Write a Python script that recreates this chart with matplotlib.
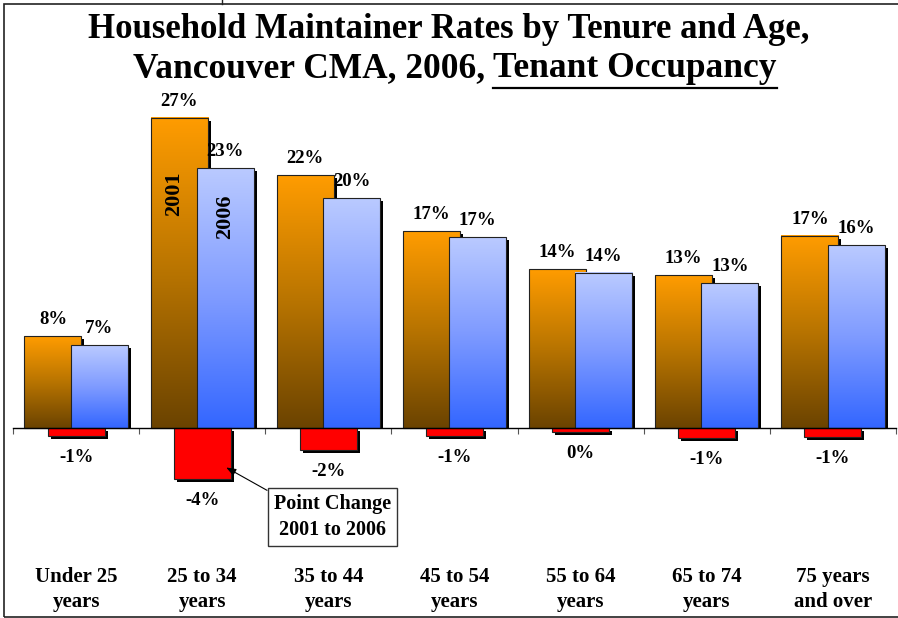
import numpy as np
import matplotlib
matplotlib.use("Agg")
import matplotlib.pyplot as plt
from matplotlib.colors import LinearSegmentedColormap
from matplotlib.patches import Rectangle
from matplotlib.lines import Line2D
from matplotlib.transforms import ScaledTranslation, blended_transform_factory

plt.rcParams['font.family'] = ['Liberation Serif', 'DejaVu Serif']
plt.rcParams['font.weight'] = 'bold'

# data (percent)
age_groups = ["Under 25\nyears", "25 to 34\nyears", "35 to 44\nyears", "45 to 54\nyears",
              "55 to 64\nyears", "65 to 74\nyears", "75 years\nand over"]
rate_2001 = [8.0, 27.0, 22.0, 17.1, 13.8, 13.3, 16.7]
rate_2006 = [7.2, 22.6, 20.0, 16.6, 13.5, 12.6, 15.9]
point_change = [-0.7, -4.4, -1.9, -0.7, -0.35, -0.9, -0.8]

W, H = 898, 618
fig = plt.figure(figsize=(W / 100, H / 100), dpi=100)
ax = fig.add_axes([13 / W, 1 - 560 / H, 883 / W, 460 / H])

x = np.arange(len(age_groups))
bw = 0.452
off = 0.183

orange_cmap = LinearSegmentedColormap.from_list("orng", ["#6B4300", "#B87400", "#FF9C00"])
blue_cmap = LinearSegmentedColormap.from_list("blu", ["#3366FF", "#7F9BFF", "#BACAFF"])
grad = np.linspace(0, 1, 256).reshape(-1, 1)

shadow_tr = ax.transData + ScaledTranslation(3 / 100, -3 / 100, fig.dpi_scale_trans)
clip_up = Rectangle((-0.5, 0), 7, 40, transform=ax.transData)


def gradient_bars(xpos, vals, cmap, z):
    sh = ax.bar(xpos, vals, bw, color="black", transform=shadow_tr, zorder=z)
    for p in sh:
        p.set_clip_path(clip_up)
    bars = ax.bar(xpos, vals, bw, facecolor="none", edgecolor="#222222", lw=0.8, zorder=z + 0.2)
    for p in bars:
        x0, y0, w, h = p.get_x(), p.get_y(), p.get_width(), p.get_height()
        ax.imshow(grad, extent=[x0, x0 + w, y0, y0 + h], origin="lower", aspect="auto",
                  cmap=cmap, zorder=z + 0.1)


gradient_bars(x - off, rate_2001, orange_cmap, 2)
gradient_bars(x + off, rate_2006, blue_cmap, 3)

# point change bars
ax.bar(x, point_change, bw, color="black", transform=shadow_tr, zorder=4)
ax.bar(x, point_change, bw, color="#FF0000", edgecolor="#222222", lw=0.8, zorder=4.2)

for xi, v in zip(x - off, rate_2001):
    ax.annotate(f"{round(v)}%", (xi, v), xytext=(0, 8.6), textcoords="offset points",
                ha="center", va="baseline", fontsize=13.5, fontweight="bold", zorder=20)
for xi, v in zip(x + off, rate_2006):
    ax.annotate(f"{round(v)}%", (xi, v), xytext=(0, 8.6), textcoords="offset points",
                ha="center", va="baseline", fontsize=13.5, fontweight="bold", zorder=20)
for xi, v in zip(x, point_change):
    ax.annotate(f"{round(v)}%", (xi, v), xytext=(0, -18.7), textcoords="offset points",
                ha="center", va="baseline", fontsize=13.5, fontweight="bold", zorder=20)

ax.text(x[1] - off - 0.04, 20.4, "2001", rotation=90, ha="center", va="center",
        fontsize=16, fontweight="bold", zorder=20)
ax.text(x[1] + off, 18.4, "2006", rotation=90, ha="center", va="center",
        fontsize=16, fontweight="bold", zorder=20)

ax.annotate("Point Change\n2001 to 2006", xy=(x[1] + 0.19, point_change[1] * 0.78),
            xytext=(2.03, -7.74), ha="center", va="center", fontsize=14.5, fontweight="bold",
            linespacing=1.4, zorder=20,
            bbox=dict(boxstyle="square,pad=0.3", fc="white", ec="#333333", lw=1),
            arrowprops=dict(arrowstyle="-|>,head_length=0.4,head_width=0.15", color="black",
                            lw=0.8, relpos=(0, 1), shrinkA=0, shrinkB=0))

# category labels, two lines each
lab_tr = blended_transform_factory(ax.transData, fig.transFigure)
for xi, lab in zip(x, age_groups):
    l1, l2 = lab.split("\n")
    ax.text(xi, 1 - 582 / H, l1, transform=lab_tr, ha="center", va="baseline",
            fontsize=15, fontweight="bold")
    ax.text(xi, 1 - 607 / H, l2, transform=lab_tr, ha="center", va="baseline",
            fontsize=15, fontweight="bold")

for s in ["top", "left", "right"]:
    ax.spines[s].set_visible(False)
ax.spines["bottom"].set_position(("data", 0))
ax.spines["bottom"].set_linewidth(1)
ax.spines["bottom"].set_zorder(10)
ax.set_xticks(np.arange(-0.5, len(x), 1))
ax.tick_params(axis="x", direction="out", length=4.3, width=0.8, color="#555555", labelbottom=False)
ax.set_yticks([])
ax.patch.set_visible(False)
ax.set_xlim(-0.5, len(x) - 0.5)
ax.set_ylim(-132 / 11.5, 328 / 11.5)

# title
fig.text(449 / W, 1 - 38 / H, "Household Maintainer Rates by Tenure and Age,",
         ha="center", va="baseline", fontsize=25, fontweight="bold")
t1 = fig.text(0, 1 - 77 / H, "Vancouver CMA, 2006,", ha="left", va="baseline",
              fontsize=25.5, fontweight="bold")
t2 = fig.text(0, 1 - 77 / H, "Tenant Occupancy", ha="left", va="baseline",
              fontsize=25.5, fontweight="bold")
fig.canvas.draw()
r = fig.canvas.get_renderer()
w1 = t1.get_window_extent(r).width
w2 = t2.get_window_extent(r).width
gap = 8
start = 455 - (w1 + gap + w2) / 2
t1.set_x(start / W)
t2.set_x((start + w1 + gap) / W)
ux0 = start + w1 + gap
fig.add_artist(Line2D([ux0 / W, (ux0 + w2) / W], [1 - 88 / H, 1 - 88 / H],
                      transform=fig.transFigure, color="black", lw=1.6))

# frame
fig.add_artist(Rectangle((4 / W, 1 / H), 1.0, 613 / H, transform=fig.transFigure,
                         fill=False, ec="#222222", lw=1.2))
fig.add_artist(Line2D([222 / W, 222 / W], [1 - 4 / H, 1], transform=fig.transFigure,
                      color="#222222", lw=1))

fig.savefig("out.png", dpi=100)
